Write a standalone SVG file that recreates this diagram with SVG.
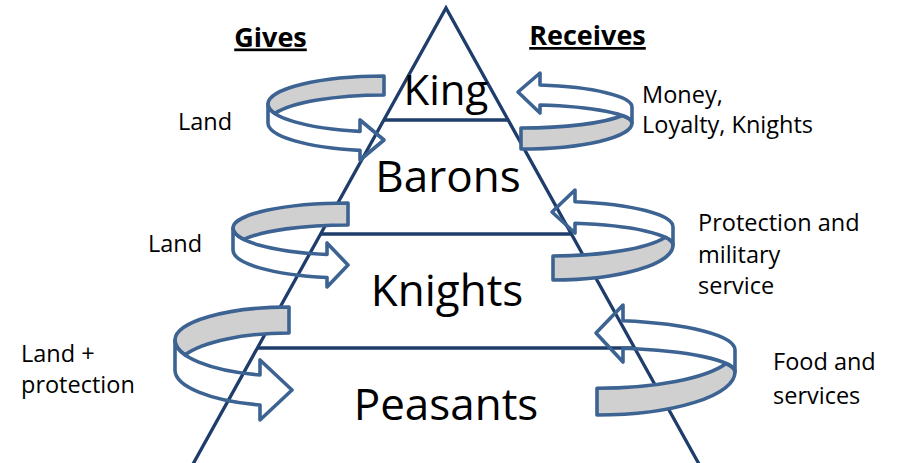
<svg xmlns="http://www.w3.org/2000/svg" width="897" height="463" viewBox="0 0 897 463">
<style>
.tri{fill:none;stroke:#1F3D6B;stroke-width:3.3;stroke-linejoin:miter}
.band{fill:#D0D0D0;stroke:#3D6393;stroke-width:3.6;stroke-linejoin:round}
.front{fill:none;stroke:#3D6393;stroke-width:3.6;stroke-linejoin:round}
text{font-family:"Open Sans","Noto Sans","Liberation Sans",sans-serif;fill:#000}
.lvl{font-size:44px;text-anchor:middle}
.lbl{font-size:23.5px}
.hdr{font-size:27px;font-weight:bold;text-anchor:middle;text-decoration:underline}
</style>
<rect width="897" height="463" fill="#fff"/>
<g id="pyramid">
  <polyline class="tri" points="189.7,470 446,8 702.3,470"/>
  <line class="tri" x1="383.7" y1="120" x2="508.3" y2="120"/>
  <line class="tri" x1="320.3" y1="234" x2="571.7" y2="234"/>
  <line class="tri" x1="257" y1="348" x2="635" y2="348"/>
</g>
<g id="king"><text class="lvl" x="446" y="105" style="font-size:42px">King</text></g>
<g id="barons"><text class="lvl" x="448" y="192">Barons</text></g>
<g id="knights"><text class="lvl" x="447" y="306">Knights</text></g>
<g id="peasants"><text class="lvl" x="446" y="420">Peasants</text></g>
<g id="headers">
  <text class="hdr" x="270.5" y="46.5">Gives</text>
  <text class="hdr" x="587.5" y="45">Receives</text>
</g>
<g id="connectors">
  <g id="give-king-barons">
    <path class="band" d="M384,76 A116,28 0 0 0 268,104 A116,28 0 0 0 274.9,113.5 A116,28 0 0 1 384,95 Z"/>
    <path class="front" d="M268,104 L268,123 A116,28 0 0 0 360,150.4 L360,160 L384,140 L360,120 L360,131.4 A116,28 0 0 1 268,104 Z"/>
  </g>
  <g id="give-barons-knights">
    <path class="band" d="M348,203 A115,25 0 0 0 233,228 A115,27 0 0 0 243.8,239.4 A115,25 0 0 1 348,225 Z"/>
    <path class="front" d="M233,228 L233,250 A115,28 0 0 0 327,277.5 L327,287 L348,265 L327,243 L327,254.5 A115,27 0 0 1 233,228 Z"/>
  </g>
  <g id="give-knights-peasants">
    <path class="band" d="M289,307 A114,33 0 0 0 175,340 A114,36.2 0 0 0 185,354.8 A114,37 0 0 1 289,333 Z"/>
    <path class="front" d="M175,340 L175,370 A114,36.2 0 0 0 260,405 L260,420 L292,390 L260,360 L260,375 A114,36.2 0 0 1 175,340 Z"/>
  </g>
  <g id="recv-barons-king">
    <path class="band" d="M521,149 A111,26 0 0 0 632,123 A111,18.3 0 0 0 622.4,115.5 A111,21 0 0 1 521,128 Z"/>
    <path class="front" d="M632,123 L632,107 A111,22.3 0 0 0 540,85 L540,73 L518,92 L540,113 L540,105 A111,18.3 0 0 1 632,123 Z"/>
  </g>
  <g id="recv-knights-barons">
    <path class="band" d="M553,280 A120,35 0 0 0 673,245 A120,22.1 0 0 0 665.3,237.2 A120,29 0 0 1 553,256 Z"/>
    <path class="front" d="M673,245 L673,227 A120,25.7 0 0 0 575,201.7 L575,190 L552,212 L575,233 L575,223.3 A120,22.1 0 0 1 673,245 Z"/>
  </g>
  <g id="recv-peasants-knights">
    <path class="band" d="M597,415 A138,43 0 0 0 735,372 A138,24.1 0 0 0 726.1,363.5 A138,38.3 0 0 1 597,388.3 Z"/>
    <path class="front" d="M735,372 L735,350 A138,29.8 0 0 0 623,320.7 L623,305 L596,333 L623,362 L623,348.3 A138,24.1 0 0 1 735,372 Z"/>
  </g>
</g>
<g id="labels">
  <text class="lbl" x="178" y="130">Land</text>
  <text class="lbl" x="148" y="252">Land</text>
  <text class="lbl" x="21" y="362">Land +</text>
  <text class="lbl" x="21" y="393">protection</text>
  <text class="lbl" x="642" y="103">Money,</text>
  <text class="lbl" x="642" y="133">Loyalty, Knights</text>
  <text class="lbl" x="698" y="231">Protection and</text>
  <text class="lbl" x="698" y="263">military</text>
  <text class="lbl" x="698" y="294">service</text>
  <text class="lbl" x="773" y="370">Food and</text>
  <text class="lbl" x="773" y="404">services</text>
</g>
</svg>
